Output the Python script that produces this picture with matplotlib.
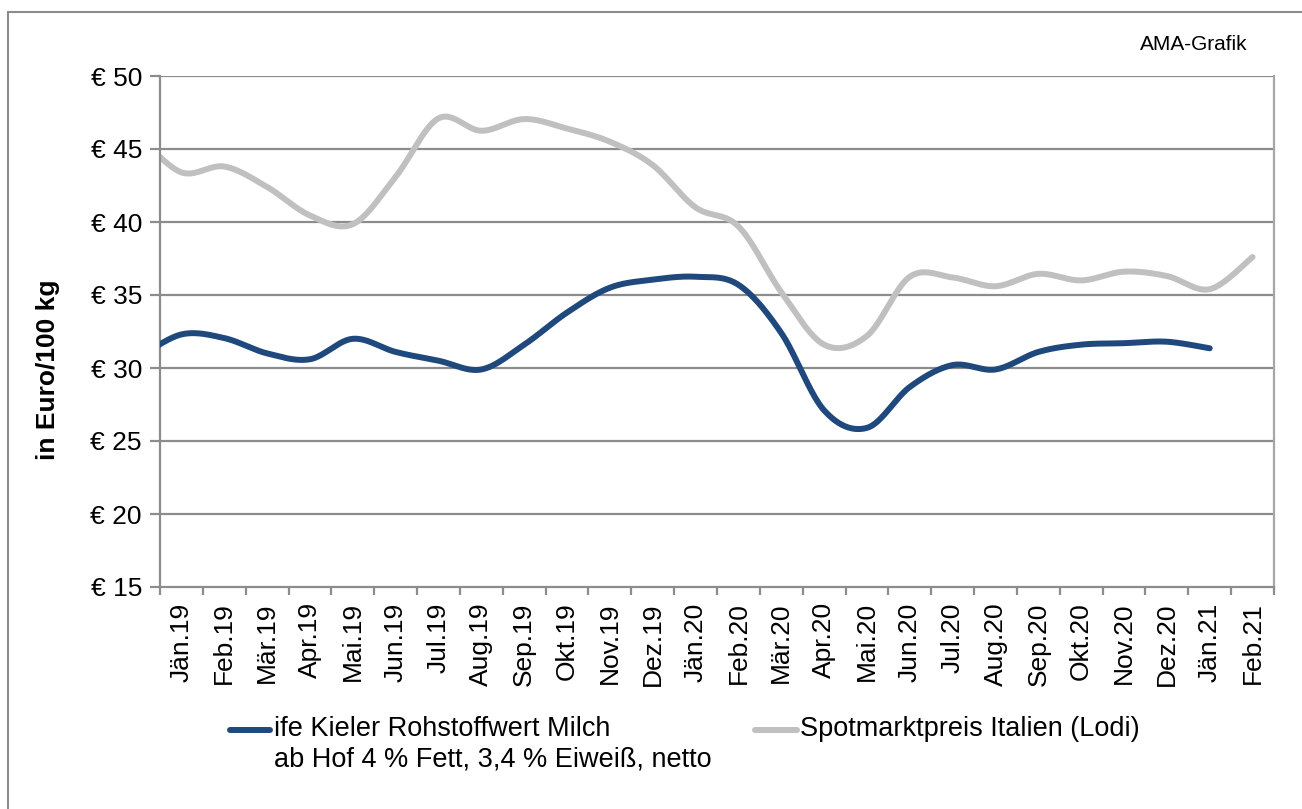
import numpy as np
import matplotlib.pyplot as plt
from matplotlib.lines import Line2D
from matplotlib.patches import Rectangle

plt.rcParams['font.family'] = ['Liberation Sans', 'DejaVu Sans']

months = ['Jän.19', 'Feb.19', 'Mär.19', 'Apr.19', 'Mai.19', 'Jun.19', 'Jul.19',
          'Aug.19', 'Sep.19', 'Okt.19', 'Nov.19', 'Dez.19', 'Jän.20', 'Feb.20',
          'Mär.20', 'Apr.20', 'Mai.20', 'Jun.20', 'Jul.20', 'Aug.20', 'Sep.20',
          'Okt.20', 'Nov.20', 'Dez.20', 'Jän.21', 'Feb.21']

# first value of each series is Dez.18, only its run into Jän.19 shows at the left edge
kieler = [30.7, 32.3, 32.05, 31.0, 30.6, 32.0, 31.1, 30.5, 29.9, 31.6, 33.8,
          35.5, 36.05, 36.25, 35.7, 32.4, 27.1, 25.9, 28.7, 30.2, 29.9, 31.1,
          31.6, 31.7, 31.8, 31.35]
lodi = [45.9, 43.4, 43.8, 42.4, 40.45, 39.85, 43.1, 47.1, 46.25, 47.05, 46.4,
        45.5, 43.9, 41.0, 39.7, 35.2, 31.6, 32.2, 36.25, 36.2, 35.6, 36.45,
        36.0, 36.6, 36.3, 35.4, 37.6]

label_kieler = 'ife Kieler Rohstoffwert Milch\nab Hof 4 % Fett, 3,4 % Eiweiß, netto'
label_lodi = 'Spotmarktpreis Italien (Lodi)'

blue = '#1f497d'
grey = '#c0c0c0'
grid_col = '#8c8c8c'


def smooth(xs, ys, n=40):
    # Bezier smoothing like the office chart tools (Catmull-Rom tangents)
    pts = np.column_stack([xs, ys]).astype(float)
    pad = np.vstack([pts[0], pts, pts[-1]])
    t = np.linspace(0, 1, n)[:, None]
    segs = []
    for i in range(len(pts) - 1):
        p0, p1, p2, p3 = pad[i], pad[i + 1], pad[i + 2], pad[i + 3]
        c1 = p1 + (p2 - p0) / 6
        c2 = p2 - (p3 - p1) / 6
        segs.append((1 - t) ** 3 * p1 + 3 * (1 - t) ** 2 * t * c1
                    + 3 * (1 - t) * t ** 2 * c2 + t ** 3 * p2)
    return np.vstack(segs)


fig = plt.figure(figsize=(13.02, 8.09), dpi=100)
ax = fig.add_axes([160 / 1302, 1 - 587 / 809, 1114 / 1302, 511 / 809])

ax.set_ylim(15, 50)
ax.set_xlim(-0.5, len(months) - 0.5)
for v in range(20, 51, 5):
    ax.axhline(v, color=grid_col, lw=1.6, zorder=1)

xk = np.arange(len(kieler)) - 1
xl = np.arange(len(lodi)) - 1
ck = smooth(xk, kieler)
cl = smooth(xl, lodi)
ax.plot(ck[:, 0], ck[:, 1], color=blue, lw=4.3, solid_capstyle='round', zorder=3)
ax.plot(cl[:, 0], cl[:, 1], color=grey, lw=4.3, solid_capstyle='round', zorder=2)

ax.set_yticks(range(15, 51, 5))
ax.set_yticklabels(['€ %d' % v for v in range(15, 51, 5)], fontsize=19)
ax.set_xticks(np.arange(len(months)))
ax.set_xticklabels(months, rotation=90, fontsize=19)
ax.set_xticks(np.arange(len(months) + 1) - 0.5, minor=True)
ax.tick_params(axis='x', which='major', length=0, pad=11)
ax.tick_params(axis='x', which='minor', length=6, width=1.6, color=grid_col)
ax.tick_params(axis='y', length=7, width=1.6, color=grid_col, pad=6)

for s in ['left', 'bottom']:
    ax.spines[s].set_color(grid_col)
    ax.spines[s].set_linewidth(1.6)
ax.spines['top'].set_visible(False)
ax.spines['right'].set_color('#a6a6a6')
ax.spines['right'].set_linewidth(1.6)

ax.set_ylabel('in Euro/100 kg', fontsize=19, fontweight='bold')
ax.yaxis.set_label_coords(-0.09, 0.425)

fig.text(1194 / 1302, 1 - 45 / 809, 'AMA-Grafik', fontsize=15, ha='center', va='center')

# legend, sample line level with the first text line
W, H = 1302, 809
legend_items = [(label_kieler, blue, 230, 270, 274), (label_lodi, grey, 755, 797, 800)]
for text, col, x0, x1, xt in legend_items:
    fig.add_artist(Line2D([x0 / W, x1 / W], [1 - 730 / H, 1 - 730 / H], color=col,
                          lw=4.3, solid_capstyle='round', transform=fig.transFigure))
    fig.text(xt / W, 1 - 716 / H, text, fontsize=19.5, ha='left', va='top',
             linespacing=1.2)

# outer frame, cut off at the right and bottom edges of the picture
fig.patches.append(Rectangle((8 / W, -0.2), 1.5, 1.2 - 12 / H,
                             transform=fig.transFigure, fill=False,
                             edgecolor='#8c8c8c', lw=1.5))

fig.savefig('out.png', dpi=100)
